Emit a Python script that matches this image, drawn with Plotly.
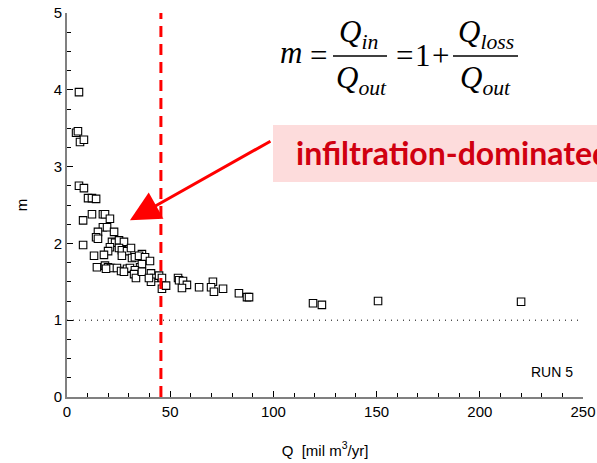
import plotly.graph_objects as go

# Discharge Q [mil m3/yr] and ratio m = Qin/Qout for RUN 5
Q = [5.8, 4.4, 5.3, 6.3, 8.2, 5.8, 8.2, 10.2, 12.1, 14.1, 7.8, 12.1, 17.4, 18.4,
     20.8, 17.4, 19.4, 22.8, 15.0, 14.1, 15.0, 7.8, 21.8, 23.3, 25.2, 27.6, 20.8,
     19.9, 25.2, 26.6, 29.1, 31.0, 13.1, 17.9, 26.6, 31.5, 32.9, 36.3, 34.9, 37.8,
     40.2, 14.5, 18.4, 19.9, 21.3, 18.9, 24.2, 26.2, 29.1, 30.5, 35.4, 36.3, 32.9,
     27.6, 32.5, 33.4, 40.7, 42.2, 44.6, 40.7, 46.0, 46.0, 48.0, 36.3, 39.7, 53.8,
     54.3, 56.2, 58.1, 55.7, 64.0, 70.7, 69.8, 71.2, 75.6, 83.3, 87.2, 88.2, 119.2,
     123.5, 150.7, 220.0]
M = [3.97, 3.44, 3.46, 3.32, 3.35, 2.75, 2.72, 2.59, 2.59, 2.58, 2.30, 2.38, 2.38,
     2.38, 2.32, 2.21, 2.21, 2.15, 2.15, 2.08, 2.06, 1.98, 2.02, 2.01, 2.04, 2.02,
     1.95, 1.90, 1.94, 1.91, 1.90, 1.94, 1.84, 1.85, 1.84, 1.81, 1.82, 1.86, 1.84,
     1.82, 1.77, 1.69, 1.71, 1.69, 1.68, 1.67, 1.68, 1.64, 1.67, 1.68, 1.69, 1.73,
     1.65, 1.63, 1.60, 1.55, 1.61, 1.55, 1.58, 1.50, 1.55, 1.41, 1.45, 1.63, 1.55,
     1.55, 1.52, 1.51, 1.46, 1.42, 1.43, 1.50, 1.43, 1.37, 1.41, 1.35, 1.30, 1.30,
     1.22, 1.20, 1.25, 1.24]

THRESHOLD_Q = 45.5      # boundary of the infiltration-dominated range
REF_M = 1.0             # m = 1 (no loss)
REF_Q_END = 248.0
ARROW_TIP = (30.5, 2.30)

X_TICKS = [0, 50, 100, 150, 200, 250]
Y_TICKS = [0, 1, 2, 3, 4, 5]

W, H = 597, 463
ML, MR, MT, MB = 67, 14, 13, 66
PW, PH = W - ML - MR, H - MT - MB


def px(x):
    return (x - ML) / PW


def py(y):
    return (H - MB - y) / PH


fig = go.Figure()

fig.add_trace(go.Scatter(
    x=Q, y=M, mode="markers",
    marker=dict(symbol="square", size=7.5, color="white",
                line=dict(color="black", width=1.1)),
    showlegend=False, cliponaxis=False,
))

# reference line m = 1
fig.add_shape(type="line", xref="x", yref="y", x0=0, x1=REF_Q_END, y0=REF_M, y1=REF_M,
              line=dict(color="black", width=1, dash="1px,5px"), layer="below")

# threshold discharge
fig.add_shape(type="line", xref="x", yref="paper", x0=THRESHOLD_Q, x1=THRESHOLD_Q,
              y0=0, y1=1, line=dict(color="#ff0000", width=3, dash="11px,7px"))

# highlighted label box
fig.add_shape(type="rect", xref="paper", yref="paper",
              x0=px(273), x1=px(620), y0=py(182), y1=py(125),
              fillcolor="#fddcdc", line=dict(width=0), layer="above")
fig.add_annotation(xref="paper", yref="paper", x=px(294), y=py(152),
                   xanchor="left", yanchor="middle", showarrow=False,
                   text="<b>infiltration-dominated</b>",
                   font=dict(family="Lato", size=32, color="#d00010"))

fig.add_annotation(x=ARROW_TIP[0], y=ARROW_TIP[1], xref="x", yref="y",
                   ax=142, ay=-80, text="", showarrow=True,
                   arrowhead=2, arrowsize=2.0, arrowwidth=3, arrowcolor="#ff0000",
                   standoff=0)

# formula m = Qin/Qout = 1 + Qloss/Qout
serif = "Liberation Serif"
fs = 31


def txt(x, y, s, size=fs, anchor="center"):
    fig.add_annotation(xref="paper", yref="paper", x=px(x), y=py(y),
                       xanchor=anchor, yanchor="middle", showarrow=False,
                       text=s, font=dict(family=serif, size=size, color="black"))


def bar(x0, x1, y):
    fig.add_shape(type="line", xref="paper", yref="paper",
                  x0=px(x0), x1=px(x1), y0=py(y), y1=py(y),
                  line=dict(color="black", width=1.5))


txt(291, 53, "<i>m</i>")
txt(318, 55, "=")
bar(333, 387, 56)
txt(358, 34, "<i>Q<sub>in</sub></i>")
txt(361, 80, "<i>Q<sub>out</sub></i>")
txt(404, 55, "=")
txt(423, 55, "1")
txt(440, 55, "+")
bar(453, 518, 56)
txt(486, 34, "<i>Q<sub>loss</sub></i>")
txt(485, 80, "<i>Q<sub>out</sub></i>")

fig.add_annotation(xref="paper", yref="paper", x=px(575), y=py(372),
                   xanchor="right", yanchor="middle", showarrow=False,
                   text="RUN 5", font=dict(family="Liberation Sans", size=14, color="black"))

axis_common = dict(
    showgrid=False, zeroline=False, showline=True, linecolor="#808080", linewidth=2,
    ticks="inside", ticklen=6, tickcolor="black", tickwidth=1,
    tickfont=dict(family="Liberation Sans", size=15, color="black"),
    mirror=False, automargin=False,
)

fig.update_xaxes(range=[0, 250], tickvals=X_TICKS, **axis_common,
                 minor=dict(dtick=10, ticks="inside", ticklen=4, tickcolor="black"),
                 title=dict(text="Q  [mil m<sup>3</sup>/yr]", standoff=26,
                            font=dict(family="Liberation Sans", size=15, color="black")))
fig.update_yaxes(range=[0, 5], tickvals=Y_TICKS, **axis_common,
                 minor=dict(dtick=0.25, ticks="inside", ticklen=4, tickcolor="black"),
                 title=dict(text="m", standoff=22,
                            font=dict(family="Liberation Sans", size=15, color="black")))

fig.update_layout(
    width=W, height=H, margin=dict(l=ML, r=MR, t=MT, b=MB, autoexpand=False),
    paper_bgcolor="white", plot_bgcolor="white",
)

fig.write_html("out.html")
